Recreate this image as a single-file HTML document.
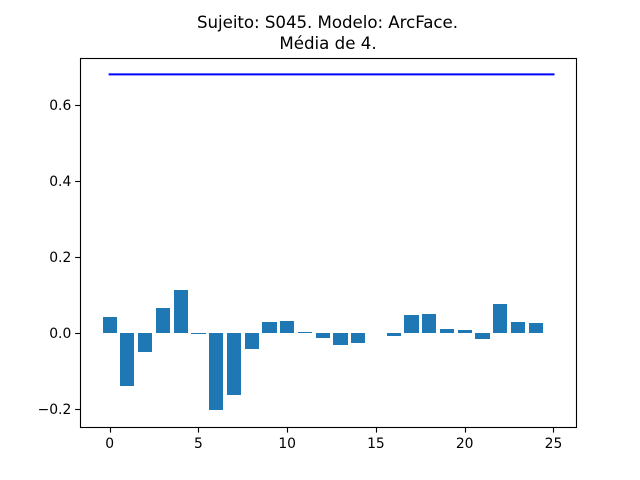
<!DOCTYPE html>
<html>
<head>
<meta charset="utf-8">
<style>
html,body{margin:0;padding:0;background:#fff;width:640px;height:480px;overflow:hidden}
svg{display:block}
text{font-family:"DejaVu Sans",sans-serif;fill:#000}
</style>
</head>
<body>
<svg id="chart" xmlns="http://www.w3.org/2000/svg" width="640" height="480" viewBox="0 0 640 480">
<rect x="0" y="0" width="640" height="480" fill="#fff"/>
<text x="327.5" y="28" font-size="16.67" text-anchor="middle" textLength="261" lengthAdjust="spacing">Sujeito: S045. Modelo: ArcFace.</text>
<text x="328" y="49" font-size="16.67" text-anchor="middle">Média de 4.</text>
<g id="bars"></g>
<g id="lines"></g>
<g id="ticks"></g>
<rect x="80.5" y="58.5" width="496" height="369" fill="none" stroke="#000" stroke-width="1.11"/>
</svg>
<script>
const barValues = [0.042, -0.1395, -0.05, 0.066, 0.113, -0.003, -0.2026, -0.163, -0.042, 0.029, 0.032, 0.003, -0.013, -0.032, -0.026, 0, -0.008, 0.047, 0.05, 0.0105, 0.008, -0.016, 0.076, 0.029, 0.026];
const lineX = [0, 25];
const lineY = [0.681, 0.681];
const xTickValues = [0, 5, 10, 15, 20, 25];
const yTickValues = [-0.2, 0, 0.2, 0.4, 0.6];
const yTickLabels = ['\u22120.2', '0.0', '0.2', '0.4', '0.6'];
const xDomain = [-1.67, 26.27];
const yDomain = [-0.2477, 0.7252];
const barWidth = 0.8;

const NS = 'http://www.w3.org/2000/svg';
const plot = { left: 80, right: 576, top: 57.6, bottom: 427.2 };
function xScale(v) {
  return plot.left + (v - xDomain[0]) / (xDomain[1] - xDomain[0]) * (plot.right - plot.left);
}
function yScale(v) {
  return plot.bottom - (v - yDomain[0]) / (yDomain[1] - yDomain[0]) * (plot.bottom - plot.top);
}
function make(tag, attrs, parent) {
  const el = document.createElementNS(NS, tag);
  for (const k in attrs) el.setAttribute(k, attrs[k]);
  parent.appendChild(el);
  return el;
}
const barsG = document.getElementById('bars');
const linesG = document.getElementById('lines');
const ticksG = document.getElementById('ticks');

barValues.forEach(function (v, i) {
  const y0 = Math.round(yScale(0)), y1 = Math.round(yScale(v));
  const x0 = Math.round(xScale(i - barWidth / 2)), x1 = Math.round(xScale(i + barWidth / 2));
  const r = make('rect', {
    x: x0,
    y: Math.min(y0, y1),
    width: x1 - x0,
    height: Math.abs(y1 - y0),
    fill: '#1f77b4'
  }, barsG);
  
  
});

const refLine = make('polyline', {
  points: lineX.map(function (x, i) { return xScale(x) + ',' + yScale(lineY[i]); }).join(' '),
  fill: 'none',
  stroke: '#0000ff',
  'stroke-width': 2.08,
  'stroke-linecap': 'square'
}, linesG);



xTickValues.forEach(function (v) {
  const px = Math.round(xScale(v)) + 0.5;
  const t = make('line', { x1: px, x2: px, y1: plot.bottom + 0.5, y2: plot.bottom + 5.4, stroke: '#000', 'stroke-width': 1.11 }, ticksG);
  
  
  const l = make('text', { x: xScale(v), y: 448, 'font-size': 13.89, 'text-anchor': 'middle' }, ticksG);
  l.textContent = String(v);
  
  
});

yTickValues.forEach(function (v, i) {
  const py = Math.round(yScale(v)) + 0.5;
  const t = make('line', { x1: plot.left - 4.86, x2: plot.left, y1: py, y2: py, stroke: '#000', 'stroke-width': 1.11 }, ticksG);
  
  
  const l = make('text', { x: 71.3, y: Math.round(yScale(v)) + 5, 'font-size': 13.89, 'text-anchor': 'end' }, ticksG);
  l.textContent = yTickLabels[i];
  
  
});
</script>
</body>
</html>
